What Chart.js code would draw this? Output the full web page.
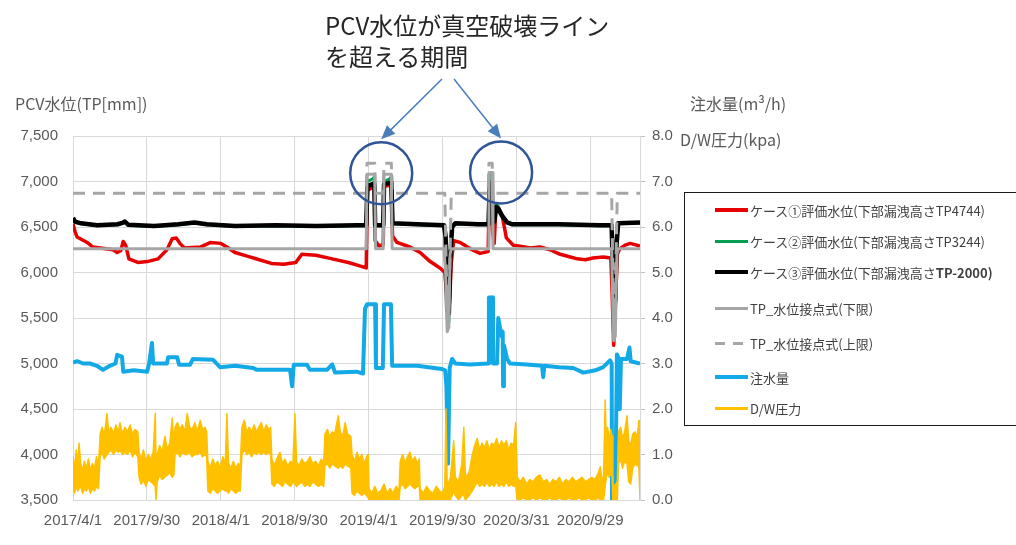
<!DOCTYPE html>
<html lang="ja">
<head>
<meta charset="utf-8">
<script src="https://cdn.jsdelivr.net/npm/chart.js@4.4.1/dist/chart.umd.min.js"></script>
<style>
body{margin:0;background:#fff;font-family:"Noto Sans CJK JP","Noto Sans",sans-serif;}
#wrap{position:relative;width:1016px;height:545px;overflow:hidden;}
#chart{position:absolute;left:0;top:0;}
.txt{position:absolute;white-space:nowrap;color:#595959;font-size:16px;line-height:20px;}
#note{left:325px;top:9px;font-size:24px;line-height:31px;color:#262626;}
#legend{position:absolute;left:684px;top:192px;width:340px;height:234px;border:1.5px solid #1a1a1a;box-sizing:border-box;}
.item{position:absolute;left:30px;height:20px;display:flex;align-items:center;font-size:13px;color:#404040;white-space:nowrap;}
.swatch{width:33px;margin-right:2px;}
</style>
</head>
<body>
<div id="wrap">
<canvas id="chart" width="1016" height="545"></canvas>
<div class="txt" id="note">PCV水位が真空破壊ライン<br>を超える期間</div>
<div class="txt" style="left:15px;top:93px;">PCV水位(TP[mm])</div>
<div class="txt" style="left:690px;top:93px;">注水量(m³/h)</div>
<div class="txt" style="left:680px;top:129px;">D/W圧力(kpa)</div>
<div id="legend"></div>
</div>
<script>
// x = days since 2017/4/1
const tickDays = [0, 182, 365, 547, 730, 912, 1095, 1277]
const tickLabels = ["2017/4/1","2017/9/30","2018/4/1","2018/9/30","2019/4/1","2019/9/30","2020/3/31","2020/9/29"]

const seriesNames = [
"ケース①評価水位(下部漏洩高さTP4744)",
"ケース②評価水位(下部漏洩高さTP3244)",
"ケース③評価水位(下部漏洩高さTP-2000)",
"TP_水位接点式(下限)",
"TP_水位接点式(上限)",
"注水量",
"D/W圧力"
]

// PCV water level [mm], left axis
const caseOne = [[0,6530],[5,6450],[10,6390],[35,6330],[49,6280],[99,6250],[109,6220],[118,6240],[124,6340],[130,6300],[138,6150],[160,6110],[183,6120],[210,6150],[232,6250],[245,6370],[255,6380],[264,6320],[275,6270],[314,6280],[340,6330],[365,6320],[380,6280],[400,6220],[430,6180],[460,6140],[490,6100],[520,6090],[550,6110],[565,6200],[600,6190],[640,6150],[680,6110],[710,6070],[724,6050],[727,6900],[744,6950],[746,6350],[756,6290],[766,6310],[768,6950],[786,6960],[789,6400],[800,6330],[832,6280],[857,6220],[882,6120],[906,6050],[918,6000],[922,5800],[926,5500],[930,5700],[934,6100],[940,6350],[956,6330],[981,6260],[1005,6210],[1025,6230],[1028,6900],[1033,7000],[1036,6450],[1040,6320],[1044,6680],[1050,6720],[1060,6620],[1070,6380],[1087,6300],[1104,6290],[1129,6270],[1153,6280],[1178,6250],[1203,6200],[1228,6170],[1245,6150],[1265,6140],[1284,6160],[1309,6170],[1328,6160],[1331,5800],[1335,5200],[1339,5600],[1344,6200],[1350,6260],[1363,6300],[1376,6320],[1400,6290]]
const caseTwo = [[0,6590],[5,6555],[20,6535],[60,6515],[110,6525],[122,6540],[128,6555],[136,6520],[200,6505],[260,6525],[300,6545],[330,6525],[400,6505],[500,6515],[600,6505],[700,6515],[724,6515],[727,7000],[740,7030],[744,7050],[746,6515],[766,6515],[768,7000],[782,7030],[787,7060],[789,6535],[850,6525],[916,6515],[920,6350],[924,5500],[928,5450],[932,6150],[936,6495],[944,6535],[1000,6525],[1026,6525],[1029,7010],[1033,7080],[1036,6700],[1040,6555],[1045,6760],[1050,6720],[1060,6630],[1072,6545],[1085,6525],[1200,6525],[1300,6515],[1330,6515],[1333,5900],[1336,5550],[1339,5650],[1342,6250],[1346,6535],[1400,6545]]
const caseThree = [[0,6600],[5,6560],[20,6540],[60,6520],[110,6530],[122,6545],[128,6560],[136,6525],[200,6510],[260,6530],[300,6550],[330,6530],[400,6510],[500,6520],[600,6510],[700,6520],[724,6520],[727,6950],[744,6980],[746,6520],[766,6520],[768,6970],[786,6990],[789,6540],[850,6530],[916,6520],[920,6400],[924,5600],[928,5550],[932,6200],[936,6500],[944,6540],[1000,6530],[1026,6530],[1029,6960],[1034,6990],[1036,6540],[1040,6560],[1045,6720],[1050,6700],[1060,6620],[1072,6550],[1085,6530],[1200,6530],[1300,6520],[1330,6520],[1333,6000],[1336,5620],[1339,5700],[1342,6300],[1346,6540],[1400,6550]]
const contactLow = [[0,6260],[724,6260],[726,7080],[745,7080],[747,6260],[766,6260],[768,7080],[786,7080],[788,6260],[916,6260],[920,6000],[924,5350],[928,5400],[931,6200],[934,6260],[1025,6260],[1027,7100],[1035,7100],[1037,6260],[1330,6260],[1332,5800],[1335,5250],[1339,5300],[1343,6200],[1346,6260],[1400,6260]]
const contactHigh = [[0,6870],[724,6870],[726,7200],[745,7200],[747,6870],[766,6870],[768,7200],[786,7200],[788,6870],[918,6870],[922,6000],[926,5400],[930,6000],[934,6870],[1025,6870],[1027,7200],[1035,7200],[1037,6870],[1330,6870],[1333,6000],[1336,5300],[1340,6000],[1344,6870],[1400,6870]]

// injection flow [m3/h], right axis
const injection = [[0,3.02],[10,3.05],[25,3.0],[42,3.0],[59,2.95],[74,2.86],[91,2.95],[105,3.0],[109,3.19],[121,3.15],[124,2.82],[150,2.85],[183,2.82],[188,3.0],[195,3.45],[198,3.0],[232,3.0],[235,3.14],[257,3.14],[262,2.97],[289,2.97],[296,3.1],[346,3.08],[363,2.92],[400,2.95],[445,2.9],[454,2.86],[536,2.86],[541,2.5],[545,2.97],[578,2.97],[585,2.86],[627,2.86],[640,2.98],[647,2.8],[700,2.82],[716,2.78],[721,4.2],[726,4.3],[746,4.3],[748,2.9],[765,2.9],[768,4.3],[785,4.3],[788,2.95],[850,2.95],[910,2.88],[919,2.85],[922,2.5],[926,0.8],[930,2.9],[936,3.1],[944,3.0],[980,2.98],[1025,3.0],[1027,4.45],[1035,4.45],[1037,3.0],[1047,3.0],[1050,4.0],[1058,3.6],[1061,3.7],[1062,2.5],[1064,3.4],[1072,3.1],[1079,3.0],[1120,2.98],[1158,2.95],[1161,2.7],[1164,2.95],[1200,2.92],[1235,2.9],[1260,2.8],[1290,2.85],[1309,2.92],[1326,3.07],[1330,3.0],[1331,0.0],[1339,0.0],[1343,3.2],[1348,3.1],[1350,2.0],[1353,3.1],[1368,3.1],[1374,3.35],[1377,3.05],[1400,3.0]]

// D/W pressure [kPa], right axis: [day, top of noisy band, bottom of noisy band]
const pressureBand = [
[0,0.95,0.2],[4,0.7,0.15],[8,1.1,0.3],[12,0.75,0.2],[15,1.25,0.25],[19,0.8,0.3],[24,0.65,0.15],[28,0.85,0.25],[33,0.7,0.2],[38,0.9,0.3],[43,0.65,0.15],[48,0.8,0.25],[53,0.7,0.2],[58,0.95,0.3],[63,0.75,0.25],
[67,1.45,0.95],[72,1.6,1.05],[77,1.4,0.9],[84,1.9,1.0],[88,1.5,1.05],[94,1.6,1.1],[100,1.45,1.0],[106,1.65,1.1],[112,1.5,1.05],[116,1.7,1.1],[122,1.45,1.0],[128,1.6,1.05],[134,1.5,1.0],[141,1.65,1.1],[147,1.45,0.95],[153,1.55,1.05],[160,1.5,0.95],
[163,1.05,0.5],[168,0.9,0.35],[174,1.1,0.45],[180,0.85,0.3],[186,1.0,0.45],[192,0.9,0.4],[198,1.05,0.35],[203,1.9,0.3],[205,0.9,0.0],[208,1.0,0.4],
[214,1.2,0.55],[220,1.05,0.45],[227,1.4,0.5],[233,1.1,0.55],[239,1.25,0.6],[245,1.8,0.5],[249,1.2,0.55],
[252,1.6,1.0],[258,1.7,1.05],[264,1.55,0.95],[270,1.65,1.05],[276,1.5,1.0],[282,1.9,1.0],[288,1.6,1.05],[294,1.55,0.95],[301,1.7,1.0],[307,1.5,1.0],[314,1.75,1.05],[320,1.55,0.95],[326,1.6,1.0],[330,1.5,0.95],
[333,0.85,0.2],[339,0.7,0.15],[345,0.9,0.25],[351,0.75,0.2],[357,0.85,0.15],[363,0.7,0.2],[370,0.95,0.25],[376,0.8,0.2],[380,1.9,0.2],[384,0.8,0.15],[390,0.7,0.25],[396,0.85,0.2],[402,0.7,0.15],[408,0.8,0.2],[413,0.75,0.2],
[417,1.6,1.0],[423,1.75,1.1],[429,1.5,1.0],[435,1.6,1.05],[441,1.5,0.95],[447,1.65,1.05],[453,1.5,1.0],[459,1.6,1.05],[465,1.7,1.0],[471,1.5,1.05],[477,1.65,1.0],[483,1.55,1.05],[488,1.6,1.0],
[491,0.9,0.35],[497,0.75,0.3],[503,0.9,0.4],[511,1.05,0.35],[517,0.8,0.3],[523,0.9,0.4],[530,0.75,0.35],[537,0.85,0.3],[543,0.8,0.4],[548,1.9,0.35],[552,0.85,0.3],[558,0.75,0.35],[565,0.9,0.4],[572,0.8,0.3],[579,0.85,0.35],[585,0.95,0.3],[592,0.8,0.4],[599,0.85,0.35],[606,0.75,0.3],[613,0.9,0.35],[619,0.8,0.3],
[622,1.45,0.75],[628,1.55,0.8],[634,1.4,0.7],[640,1.5,0.8],[646,1.45,0.75],[655,1.85,0.7],[660,1.5,0.75],[666,1.4,0.7],[672,1.7,0.8],[678,1.45,0.75],[686,1.4,0.7],
[689,1.0,0.15],[695,0.85,0.1],[701,1.05,0.2],[707,0.9,0.15],[713,1.0,0.1],[719,0.8,0.15],[725,0.95,0.1],[729,1.0,0.05],
[731,0.25,0.0],[738,0.15,0.0],[745,0.3,0.0],[752,0.15,0.0],[760,0.2,0.0],[768,0.35,0.0],[775,0.15,0.0],[783,0.25,0.0],[790,0.15,0.0],[798,0.3,0.0],[805,0.2,0.0],
[808,0.85,0.3],[814,1.0,0.35],[820,0.8,0.25],[826,0.95,0.3],[832,1.05,0.35],[838,0.85,0.3],[844,0.95,0.25],[850,0.8,0.3],[855,0.9,0.3],
[857,0.25,0.0],[865,0.15,0.0],[873,0.3,0.0],[881,0.2,0.0],[889,0.15,0.0],[897,0.3,0.0],[905,0.2,0.0],[912,0.15,0.0],
[918,0.3,0.0],[921,2.0,0.0],[924,0.3,0.0],[932,0.5,0.0],[940,1.3,0.2],[944,0.5,0.1],[952,0.4,0.0],[960,0.8,0.1],[965,1.6,0.1],[969,0.5,0.0],[978,0.6,0.1],[986,1.0,0.2],
[992,1.2,0.3],[998,1.35,0.4],[1004,1.1,0.3],[1010,1.25,0.35],[1016,1.15,0.3],[1022,1.3,0.4],[1028,1.1,0.3],[1034,1.25,0.35],[1040,1.2,0.3],[1046,1.35,0.4],[1052,1.15,0.3],[1058,1.3,0.35],[1064,1.2,0.3],[1070,1.3,0.4],[1076,1.1,0.3],[1082,1.25,0.35],[1088,1.2,0.3],[1093,1.7,0.3],
[1097,0.5,0.0],[1104,0.4,0.0],[1112,0.5,0.05],[1120,0.35,0.0],[1128,0.45,0.0],[1136,0.4,0.05],[1144,0.5,0.0],[1153,0.55,0.05],[1161,0.4,0.0],[1169,0.45,0.0],[1177,0.35,0.05],[1185,0.45,0.0],[1193,0.4,0.0],[1201,0.5,0.05],[1209,0.35,0.0],[1217,0.45,0.0],[1225,0.4,0.05],[1233,0.5,0.0],[1241,0.4,0.0],[1249,0.45,0.05],[1257,0.5,0.0],[1265,0.4,0.0],[1273,0.45,0.05],[1281,0.5,0.0],[1289,0.45,0.0],[1297,0.6,0.05],[1302,0.73,0.0],[1306,0.45,0.0],[1310,0.5,0.0],
[1314,2.2,0.3],[1317,1.2,0.5],[1320,1.6,0.6],[1324,1.3,0.5],[1328,1.55,0.6],[1331,1.4,0.5],[1333,0.3,0.0],[1340,0.35,0.0],[1344,0.4,0.0],[1347,1.5,0.8],[1352,1.6,0.9],[1357,1.35,0.7],[1362,1.5,0.85],[1368,1.85,0.8],[1372,1.3,0.4],[1377,1.2,0.35],[1382,1.45,0.7],[1388,1.5,0.8],[1393,1.35,0.75],[1397,1.75,0.8],[1400,1.75,0.0]
]

// circled periods (day, mm)
const circleSpots = [[761, 7090], [1057, 7100]]

const colors = ["#e60000","#00a050","#000000","#a6a6a6","#a6a6a6","#12a9e6","#ffc000"]
const widths = [3.5, 3, 4.5, 3, 3, 4, 3]
const legendRows = [17, 48, 79, 115, 150, 184, 215]

function pts(arr){ return arr.map(p => ({x:p[0], y:p[1]})) }

const tickFont = {family:"'Liberation Sans Narrow','Liberation Sans',sans-serif", size:15}

const notePlugin = {
id:"note",
afterDraw(chart){
const ctx = chart.ctx
const xs = chart.scales.x, ys = chart.scales.y
const starts = [[442,79],[454,79]]
ctx.save()
circleSpots.forEach((c,i) => {
let cx = xs.getPixelForValue(c[0]), cy = ys.getPixelForValue(c[1])
ctx.strokeStyle = "#2f5597"
ctx.lineWidth = 2.5
ctx.beginPath()
ctx.arc(cx, cy, 31, 0, Math.PI*2)
ctx.stroke()
// arrow from the note to the circle
let sx = starts[i][0], sy = starts[i][1]
let tx = cx, ty = cy - 34
let a = Math.atan2(ty-sy, tx-sx)
ctx.strokeStyle = "#4a7ebb"
ctx.fillStyle = "#4a7ebb"
ctx.lineWidth = 1.5
ctx.beginPath()
ctx.moveTo(sx, sy)
ctx.lineTo(tx - 12*Math.cos(a), ty - 12*Math.sin(a))
ctx.stroke()
ctx.beginPath()
ctx.moveTo(tx, ty)
ctx.lineTo(tx - 14*Math.cos(a) + 6*Math.sin(a), ty - 14*Math.sin(a) - 6*Math.cos(a))
ctx.lineTo(tx - 14*Math.cos(a) - 6*Math.sin(a), ty - 14*Math.sin(a) + 6*Math.cos(a))
ctx.closePath()
ctx.fill()
})
ctx.restore()
}
}

function lineSet(i, data, axis, order){
return {
label: seriesNames[i],
data: pts(data),
yAxisID: axis,
borderColor: colors[i],
borderWidth: widths[i],
fill: false,
order: order
}
}

const sets = [
lineSet(0, caseOne, "y", 8),
lineSet(1, caseTwo, "y", 7),
lineSet(2, caseThree, "y", 6),
lineSet(3, contactLow, "y", 5),
Object.assign(lineSet(4, contactHigh, "y", 4), {borderDash:[12,8]}),
lineSet(5, injection, "y2", 3),
Object.assign(lineSet(6, pressureBand.map(p => [p[0], p[1]]), "y2", 1), {fill:"+1", backgroundColor:colors[6], borderWidth:1.5}),
{label:"", data:pts(pressureBand.map(p => [p[0], p[2]])), yAxisID:"y2", borderColor:colors[6], borderWidth:1.5, fill:false, order:1}
]

new Chart(document.getElementById("chart"),{
type:"line",
data:{datasets:sets},
options:{
responsive:false,
animation:false,
layout:{padding:{left:0, right:336, top:136, bottom:15}},
plugins:{legend:{display:false}, tooltip:{enabled:false}},
elements:{point:{radius:0}, line:{tension:0, borderJoinStyle:"round"}},
scales:{
x:{
type:"linear", min:0, max:1400,
afterBuildTicks: s => { s.ticks = tickDays.map(v => ({value:v})) },
afterFit: s => { s.height = 30 },
grid:{color:"#d9d9d9", drawTicks:false},
border:{color:"#d9d9d9"},
ticks:{padding:12, autoSkip:false, maxRotation:0, color:"#595959", font:tickFont,
callback:(v,i) => tickLabels[i]}
},
y:{
position:"left", min:3500, max:7500,
afterFit: s => { s.width = 73 },
grid:{color:"#d9d9d9", drawTicks:false},
border:{color:"#d9d9d9"},
ticks:{stepSize:500, padding:15, color:"#595959", font:tickFont,
callback: v => v.toLocaleString("en-US")}
},
y2:{
position:"right", min:0, max:8,
afterFit: s => { s.width = 40 },
grid:{drawOnChartArea:false, tickLength:5, color:"#bfbfbf"},
border:{color:"#d9d9d9"},
ticks:{stepSize:1, padding:7, color:"#595959", font:tickFont,
callback: v => v.toFixed(1)}
}
}
},
plugins:[notePlugin]
})

// legend box
const legend = document.getElementById("legend")
seriesNames.forEach((name,i) => {
let row = document.createElement("div")
row.className = "item"
row.style.top = (legendRows[i] - 10) + "px"
let sw = document.createElement("div")
sw.className = "swatch"
sw.style.height = Math.min(widths[i], 4) + "px"
if(i == 4){
sw.style.background = "repeating-linear-gradient(to right," + colors[i] + " 0 10px, transparent 10px 18px)"
}else{
sw.style.background = colors[i]
}
let tx = document.createElement("span")
tx.innerHTML = name.replace(/(TP-2000\))$/, "<b>$1</b>")
row.appendChild(sw)
row.appendChild(tx)
legend.appendChild(row)
})
</script>
</body>
</html>
